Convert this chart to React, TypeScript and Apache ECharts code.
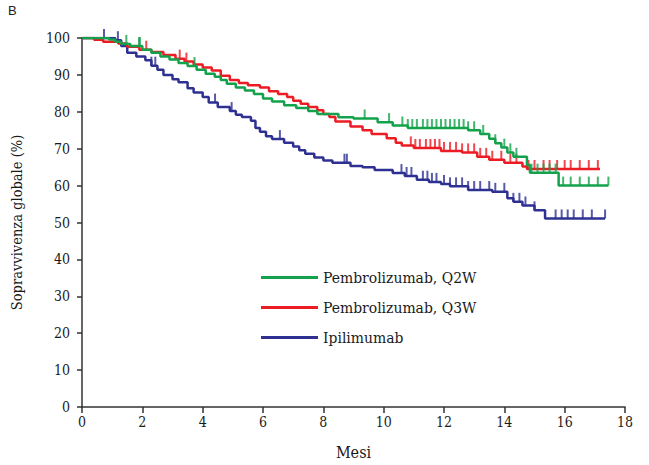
import React, { useEffect, useRef } from "react";
import * as echarts from "echarts";

const xTicks = [0, 2, 4, 6, 8, 10, 12, 14, 16, 18];
const yTicks = [0, 10, 20, 30, 40, 50, 60, 70, 80, 90, 100];

const seriesNames = ["Pembrolizumab, Q2W", "Pembrolizumab, Q3W", "Ipilimumab"];
const seriesColors = ["#13a24b", "#ec1c24", "#2e3192"];

const q2wSteps: [number, number][] = [
  [0, 100], [0.9, 99.6], [1.1, 99], [1.3, 98.4], [1.6, 97.8], [2.0, 96.8], [2.3, 96], [2.6, 95],
  [2.9, 94.2], [3.2, 93.2], [3.5, 92.4], [3.8, 91.4], [4.1, 90.3], [4.4, 89.5], [4.6, 88.6],
  [4.8, 87.6], [5.1, 86.6], [5.4, 85.8], [5.7, 84.8], [6.0, 83.6], [6.3, 82.8], [6.7, 81.8],
  [7.1, 81.0], [7.5, 80.2], [7.8, 79.4], [8.5, 78.5], [9.0, 78.2], [9.8, 77.2], [10.3, 76.3],
  [10.8, 75.6], [12.8, 75.0], [13.2, 74.0], [13.5, 72.7], [13.7, 71.5], [13.9, 70.3],
  [14.1, 69.0], [14.3, 67.8], [14.75, 65.6], [14.85, 63.5], [15.8, 60], [17.45, 60],
];

const q3wSteps: [number, number][] = [
  [0, 100], [0.4, 99.5], [0.7, 99], [1.2, 98.5], [1.5, 97.6], [1.9, 96.8], [2.3, 96.2],
  [2.7, 95.4], [3.1, 94.4], [3.4, 93.6], [3.7, 92.8], [4.0, 92.0], [4.3, 91.2], [4.6, 89.8],
  [4.9, 88.6], [5.2, 87.8], [5.5, 87.2], [5.9, 86.6], [6.2, 85.6], [6.5, 84.8], [6.8, 84.0],
  [7.0, 83.0], [7.25, 82.2], [7.5, 81.3], [7.8, 80.4], [8.0, 79.4], [8.2, 78.6], [8.4, 77.4],
  [8.9, 76.0], [9.3, 75.0], [9.6, 74.0], [10.1, 72.8], [10.4, 71.6], [10.6, 70.9], [11.0, 70.2],
  [11.9, 69.4], [12.6, 69.0], [13.1, 67.8], [13.5, 67.0], [14.0, 66.2], [14.6, 65.2],
  [14.75, 64.5], [17.17, 64.5],
];

const ipiSteps: [number, number][] = [
  [0, 100], [1.1, 99.4], [1.3, 97.8], [1.5, 96], [1.8, 95], [2.1, 94], [2.3, 92.5], [2.5, 91.4],
  [2.7, 90], [3.0, 88.8], [3.2, 88], [3.5, 86.4], [3.7, 85.2], [4.0, 84], [4.2, 82.5],
  [4.5, 81.3], [4.9, 80.2], [5.1, 79.2], [5.3, 78.6], [5.6, 77.6], [5.75, 75.6], [5.9, 74.6],
  [6.1, 73.4], [6.3, 72.6], [6.7, 71.6], [7.0, 70.6], [7.2, 69.6], [7.4, 68.6], [7.7, 67.6],
  [8.0, 66.8], [8.3, 66.2], [8.9, 65.3], [9.3, 65.0], [9.7, 64.2], [10.3, 63.4], [10.7, 62.6],
  [11.1, 61.6], [11.5, 61.0], [11.9, 60.4], [12.2, 59.8], [12.8, 58.8], [13.6, 58.3],
  [14.1, 56.6], [14.3, 55.6], [14.6, 54.6], [15.0, 53.3], [15.35, 51.1], [17.34, 51.1],
];

const q2wCensors = [
  1.47, 1.89, 1.92, 3.73, 9.37, 10.18, 10.62, 10.8, 10.95, 11.1, 11.3, 11.45, 11.6, 11.75, 11.9,
  12.05, 12.2, 12.35, 12.5, 12.65, 12.8, 13.0, 13.3, 13.7, 14.0, 14.2, 14.4, 14.9, 15.1, 15.3,
  15.5, 15.7, 15.95, 16.2, 16.5, 16.8, 17.1, 17.45,
];
const q3wCensors = [
  2.13, 3.24, 3.46, 10.9, 11.05, 11.2, 11.4, 11.55, 11.7, 11.85, 12.0, 12.2, 12.4, 12.6, 12.8,
  13.0, 13.2, 13.4, 13.6, 13.9, 14.2, 14.4, 14.8, 15.0, 15.3, 15.5, 15.75, 16.0, 16.2, 16.5,
  16.8, 17.1,
];
const ipiCensors = [
  0.73, 1.19, 2.3, 2.43, 4.41, 4.96, 6.56, 8.7, 8.78, 10.59, 10.76, 10.92, 11.3, 11.45, 11.6,
  11.75, 12.0, 12.2, 12.4, 12.6, 12.8, 13.0, 13.2, 13.5, 13.7, 14.0, 14.3, 14.5, 14.7, 15.0,
  15.7, 15.9, 16.1, 16.3, 16.6, 16.9, 17.34,
];

const FONT = '"DejaVu Serif Condensed", "DejaVu Serif", serif';

function valueAt(steps: [number, number][], t: number): number {
  let v = steps[0][1];
  for (const [x, y] of steps) {
    if (x <= t) v = y;
    else break;
  }
  return v;
}

export default function App() {
  const ref = useRef<HTMLDivElement>(null);
  useEffect(() => {
    if (!ref.current) return;
    const chart = echarts.init(ref.current, null, { renderer: "svg" });
    const stepsList = [q2wSteps, q3wSteps, ipiSteps];
    const censorsList = [q2wCensors, q3wCensors, ipiCensors];
    const lineSeries = stepsList.map((steps, i) => ({
      name: seriesNames[i],
      type: "line",
      step: "end",
      data: steps,
      showSymbol: false,
      symbol: "none",
      lineStyle: { color: seriesColors[i], width: 2.5 },
      itemStyle: { color: seriesColors[i] },
      z: 5 - i,
    }));
    const censorSeries = censorsList.map((cs, i) => ({
      name: seriesNames[i] + " censored",
      type: "scatter",
      data: cs.map((t) => [t, valueAt(stepsList[i], t)]),
      symbol: "rect",
      symbolSize: [2, 9],
      symbolOffset: [0, -4.5],
      itemStyle: { color: seriesColors[i] },
      z: 5 - i,
    }));
    chart.setOption({
      animation: false,
      backgroundColor: "#ffffff",
      textStyle: { fontFamily: FONT },
      grid: { left: 82, right: 24, top: 38, bottom: 57 },
      graphic: [
        {
          type: "text",
          left: 8,
          top: 4,
          style: { text: "B", fontSize: 13, fontFamily: "Liberation Sans, Arial, sans-serif", fill: "#222" },
        },
      ],
      legend: {
        data: seriesNames,
        orient: "vertical",
        left: 256,
        top: 264,
        icon: "rect",
        itemWidth: 57,
        itemHeight: 3,
        itemGap: 13,
        textStyle: { fontSize: 15.5, fontFamily: FONT, color: "#1a1a1a", lineHeight: 17, padding: [0, 0, 0, 0] },
      },
      xAxis: {
        type: "value",
        min: 0,
        max: 18,
        interval: 2,
        name: "Mesi",
        nameLocation: "middle",
        nameGap: 37,
        nameTextStyle: { fontSize: 16, color: "#1a1a1a", fontFamily: FONT },
        axisLine: { show: true, lineStyle: { color: "#333", width: 1.5 } },
        axisTick: { show: true, length: 6, lineStyle: { color: "#333", width: 1.5 } },
        axisLabel: {
          fontSize: 14,
          color: "#1a1a1a",
          margin: 8,
          fontFamily: FONT,
          formatter: (v: number) => (xTicks.includes(v) ? String(v) : ""),
        },
        splitLine: { show: false },
      },
      yAxis: {
        type: "value",
        min: 0,
        max: 100,
        interval: 10,
        name: "Sopravvivenza globale (%)",
        nameLocation: "middle",
        nameGap: 58,
        nameTextStyle: { fontSize: 14.5, color: "#1a1a1a", fontFamily: FONT },
        axisLine: { show: true, lineStyle: { color: "#333", width: 1.5 } },
        axisTick: { show: true, length: 5, lineStyle: { color: "#333", width: 1.5 } },
        axisLabel: {
          fontSize: 14,
          color: "#1a1a1a",
          margin: 12,
          fontFamily: FONT,
          formatter: (v: number) => (yTicks.includes(v) ? String(v) : ""),
        },
        splitLine: { show: false },
      },
      series: [...censorSeries, ...lineSeries],
    });
    return () => chart.dispose();
  }, []);
  return (
    <div
      ref={ref}
      style={{ position: "fixed", left: 0, top: 0, width: 649, height: 465, background: "#fff" }}
    />
  );
}
